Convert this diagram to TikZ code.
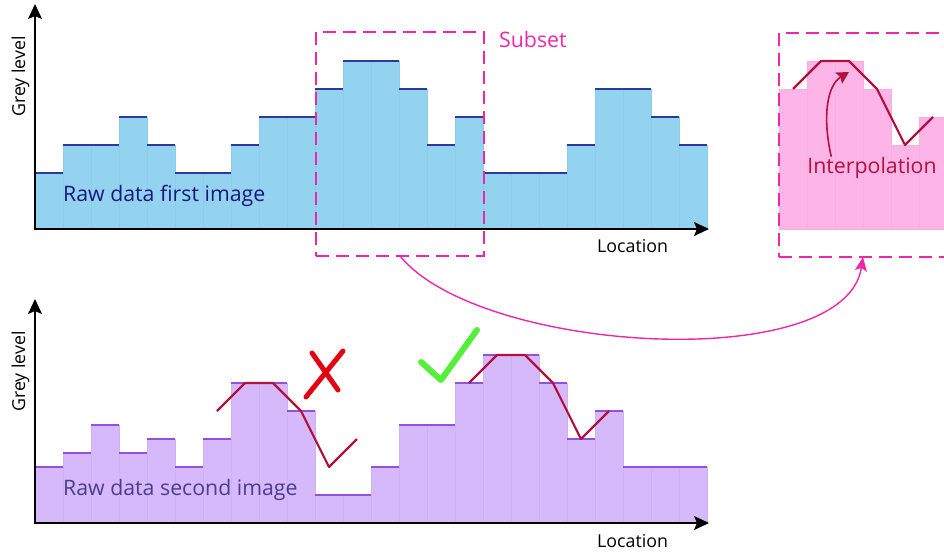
\documentclass[tikz,border=0pt]{standalone}
\usepackage{fontspec}
\setmainfont{Open Sans}
\usetikzlibrary{arrows.meta}
\definecolor{skyfill}{HTML}{94D3EF}
\definecolor{skytop}{HTML}{2B3A9A}
\definecolor{skytext}{HTML}{16187C}
\definecolor{lavfill}{HTML}{D6B9FA}
\definecolor{lavtop}{HTML}{9350E0}
\definecolor{lavtext}{HTML}{4B3C92}
\definecolor{pinkfill}{HTML}{FDB5E8}
\definecolor{magentaline}{HTML}{EE27AA}
\definecolor{crimson}{HTML}{B3103D}
\definecolor{okgreen}{HTML}{55EE3A}
\definecolor{badred}{HTML}{E40010}
% interpolated profile through the bar centres, in bar units
\newcommand{\interpline}[1]{\draw[interp, shift={(0,#1)}] (0.5,5) -- (1.5,6) -- (2.5,6) -- (3.5,5) -- (4.5,3) -- (5.5,4);}

\begin{document}
\begin{tikzpicture}[x=1pt, y=-1pt, >=Stealth,
    axis/.style={line width=2pt, <->, >={Stealth[length=15pt,width=14pt,inset=3pt]}},
    barunit/.style={x=28pt, y=28pt},
    dashbox/.style={draw=magentaline, line width=2pt, dash pattern=on 13pt off 7pt, minimum width=168pt, minimum height=224pt, anchor=north west, inner sep=0pt, outer sep=0pt},
    interp/.style={draw=crimson, line width=2.2pt, line join=round},
    lab/.style={inner sep=0pt, font=\fontsize{17.8}{21}\selectfont},
    biglab/.style={inner sep=0pt, font=\fontsize{21.3}{25}\selectfont}]

    \useasboundingbox (0,0) rectangle (944,552);

    % first image
    \begin{scope}[shift={(35,229)}, barunit]
        \foreach \h [count=\i] in {2,3,3,4,3,2,2,3,4,4,5,6,6,5,3,4,2,2,2,3,5,5,4,3} {
            \fill[skyfill, draw=skyfill!96!black, line width=0.25pt] (\i-1,0) rectangle (\i,\h);
            \draw[skytop, line width=2pt] (\i-1,\h) -- (\i,\h);
        }
    \end{scope}
    \coordinate (o1) at (35,229);
    \coordinate (ytop1) at (35,4);
    \coordinate (xend1) at (709,229);
    \draw[axis] (ytop1) -- (o1) -- (xend1);
    \node[lab, rotate=90, anchor=base west] (grey1) at (25,117) {Grey level};
    \node[lab, anchor=base west] (loc1) at (597,252) {Location};
    \node[biglab, text=skytext, anchor=base west] (raw1) at (63,201) {Raw data first image};

    \node[dashbox] (subset) at (316,32) {};
    \node[biglab, text=magentaline, anchor=base west] (subsetlabel) at (499,47) {Subset};

    % second image
    \begin{scope}[shift={(35,523)}, barunit]
        \foreach \h [count=\i] in {2,2.5,3.5,2.5,3,2,3,5,5,4,1,1,2,3.5,3.5,5,6,6,5,3,4,2,2,2} {
            \fill[lavfill, draw=lavfill!96!black, line width=0.25pt] (\i-1,0) rectangle (\i,\h);
            \draw[lavtop, line width=2pt] (\i-1,\h) -- (\i,\h);
        }
    \end{scope}
    \coordinate (o2) at (35,523);
    \coordinate (ytop2) at (35,299);
    \coordinate (xend2) at (709,523);
    \draw[axis] (ytop2) -- (o2) -- (xend2);
    \node[lab, rotate=90, anchor=base west] (grey2) at (25,412) {Grey level};
    \node[lab, anchor=base west] (loc2) at (597,547) {Location};
    \node[biglab, text=lavtext, anchor=base west] (raw2) at (63,495) {Raw data second image};

    \begin{scope}[shift={(203,523)}, barunit]
        \interpline{-1}
    \end{scope}
    \begin{scope}[shift={(455,523)}, barunit]
        \interpline{0}
    \end{scope}

    % wrong match / good match
    \draw[badred, line width=5pt, line cap=round] (312,353) -- (338,390);
    \draw[badred, line width=5pt, line cap=round] (343,351) -- (306,397);
    \draw[okgreen, line width=6pt, line cap=round, line join=round] (421,362) -- (441,380) -- (477,330);

    % interpolated subset
    \begin{scope}[shift={(779,229)}, barunit]
        \foreach \h [count=\i] in {5,6,6,5,3,4}
            \fill[pinkfill, draw=pinkfill!97!black, line width=0.25pt] (\i-1,0) rectangle (\i,\h);
        \interpline{0}
    \end{scope}
    \node[dashbox] (inset) at (779,33) {};
    \node[biglab, text=crimson, anchor=base] (interplabel) at (872,173) {Interpolation};
    \coordinate (peak) at (849,72);
    \draw[crimson, line width=1.6pt, -{Stealth[length=12pt,width=13pt,inset=2pt]}]
        ([xshift=24pt]interplabel.north west) .. controls +(-10,-45) and +(-20,12) .. (peak);

    \draw[magentaline, line width=1.4pt, -{Stealth[length=14pt,width=12pt,inset=3pt]}]
        (subset.south) .. controls +(80,98) and +(-18,118) .. (inset.south);
\end{tikzpicture}
\end{document}
